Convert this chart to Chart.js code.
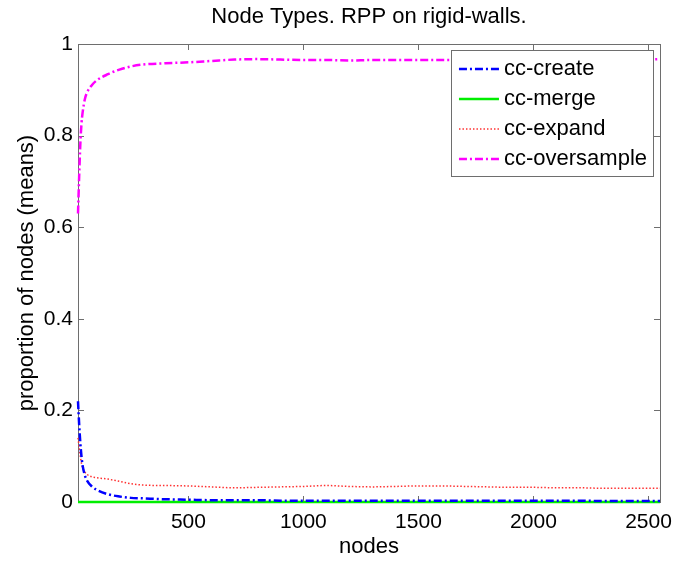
<!DOCTYPE html>
<html>
<head>
<meta charset="utf-8">
<script src="https://cdn.jsdelivr.net/npm/chart.js@4.4.1/dist/chart.umd.min.js"></script>
<style>
  html, body { margin: 0; padding: 0; background: #fff; }
  #wrap { width: 676px; height: 564px; }
</style>
</head>
<body>
<div id="wrap"><canvas id="nodeChart"></canvas></div>
<script>
// number of nodes in the roadmap
var nodes = [20, 25, 30, 35, 40, 50, 60, 80, 100, 150, 200, 250, 300, 400, 500, 600, 700, 800, 900, 1000,
             1100, 1200, 1300, 1400, 1500, 1600, 1700, 1800, 1900, 2000, 2100, 2200, 2300, 2400, 2500, 2550];

// mean proportion of each node type
var ccCreate = [0.22, 0.17, 0.13, 0.10, 0.08, 0.058, 0.046, 0.034, 0.027, 0.017, 0.012, 0.009, 0.008, 0.006, 0.005, 0.004, 0.004, 0.004, 0.003, 0.003,
                0.003, 0.003, 0.003, 0.003, 0.003, 0.003, 0.003, 0.003, 0.003, 0.003, 0.003, 0.003, 0.002, 0.002, 0.002, 0.002];
var ccMerge = [0, 0, 0, 0, 0, 0, 0, 0, 0, 0, 0, 0, 0, 0, 0, 0, 0, 0, 0, 0,
               0, 0, 0, 0, 0, 0, 0, 0, 0, 0, 0, 0, 0, 0, 0, 0];
var ccExpand = [0.14, 0.12, 0.10, 0.085, 0.075, 0.065, 0.06, 0.055, 0.053, 0.05, 0.045, 0.04, 0.037, 0.036, 0.035, 0.033, 0.031, 0.032, 0.033, 0.034,
                0.036, 0.034, 0.033, 0.034, 0.035, 0.035, 0.034, 0.033, 0.032, 0.032, 0.031, 0.031, 0.030, 0.030, 0.030, 0.030];
var ccOversample = [0.63, 0.71, 0.78, 0.825, 0.85, 0.88, 0.895, 0.91, 0.92, 0.934, 0.944, 0.951, 0.955, 0.958, 0.960, 0.963, 0.966, 0.967, 0.966, 0.965,
                    0.965, 0.964, 0.965, 0.965, 0.965, 0.965, 0.965, 0.965, 0.965, 0.965, 0.965, 0.965, 0.965, 0.966, 0.966, 0.967];

var xTicks = [500, 1000, 1500, 2000, 2500];
var yTicks = [0, 0.2, 0.4, 0.6, 0.8, 1];

const toPoints = (ys) => nodes.map((x, i) => ({ x: x, y: ys[i] }));

const axisColor = '#6e6e6e';
const fontFamily = 'Helvetica, Arial, "Liberation Sans", sans-serif';

// box around the axes plus inward tick marks on all four sides
const boxPlugin = {
  id: 'boxPlugin',
  beforeDatasetsDraw(chart) {
    const { ctx, chartArea: a, scales } = chart;
    ctx.save();
    ctx.strokeStyle = axisColor;
    ctx.lineWidth = 1;
    ctx.beginPath();
    scales.x.ticks.forEach(t => {
      const px = Math.round(scales.x.getPixelForValue(t.value)) + 0.5;
      ctx.moveTo(px, a.bottom); ctx.lineTo(px, a.bottom - 6);
      ctx.moveTo(px, a.top); ctx.lineTo(px, a.top + 6);
    });
    scales.y.ticks.forEach(t => {
      const py = Math.round(scales.y.getPixelForValue(t.value)) + 0.5;
      ctx.moveTo(a.left, py); ctx.lineTo(a.left + 6, py);
      ctx.moveTo(a.right, py); ctx.lineTo(a.right - 6, py);
    });
    ctx.stroke();
    ctx.strokeRect(Math.round(a.left) + 0.5, Math.round(a.top) + 0.5,
                   Math.round(a.right - a.left), Math.round(a.bottom - a.top));
    ctx.restore();
  }
};

// legend boxed inside the top right corner
const innerLegend = {
  id: 'innerLegend',
  afterDatasetsDraw(chart) {
    const { ctx, chartArea: a } = chart;
    const sets = chart.data.datasets;
    ctx.save();
    ctx.font = '22px ' + fontFamily;
    const textW = Math.max(...sets.map(d => ctx.measureText(d.label).width));
    const rowH = 30, lineLen = 40, padL = 8, gap = 5, padR = 6;
    const w = padL + lineLen + gap + textW + padR;
    const h = rowH * sets.length + 6;
    const right = Math.round(a.right) - 7;
    const x0 = right - w, y0 = Math.round(a.top) + 6;
    ctx.fillStyle = '#fff';
    ctx.fillRect(x0, y0, w, h);
    ctx.strokeStyle = axisColor;
    ctx.lineWidth = 1;
    ctx.strokeRect(Math.round(x0) + 0.5, y0 + 0.5, Math.round(w), h);
    sets.forEach((d, i) => {
      const cy = y0 + 19 + i * rowH;
      ctx.strokeStyle = d.borderColor;
      ctx.lineWidth = d.borderWidth;
      ctx.setLineDash(d.borderDash || []);
      ctx.beginPath();
      ctx.moveTo(x0 + padL, cy);
      ctx.lineTo(x0 + padL + lineLen, cy);
      ctx.stroke();
      ctx.setLineDash([]);
      ctx.fillStyle = '#000';
      ctx.textBaseline = 'middle';
      ctx.fillText(d.label, x0 + padL + lineLen + gap, cy);
    });
    ctx.restore();
  }
};

document.addEventListener('DOMContentLoaded', () => {
  var ctx = document.getElementById('nodeChart');
  new Chart(ctx, {
    type: 'line',
    data: {
      datasets: [
        { label: 'cc-create', data: toPoints(ccCreate), borderColor: '#0000ff', borderWidth: 2.5, borderDash: [8, 3, 2, 3] },
        { label: 'cc-merge', data: toPoints(ccMerge), borderColor: '#00ee00', borderWidth: 2.5 },
        { label: 'cc-expand', data: toPoints(ccExpand), borderColor: '#ff3030', borderWidth: 1.5, borderDash: [1.5, 2] },
        { label: 'cc-oversample', data: toPoints(ccOversample), borderColor: '#ff00ff', borderWidth: 2.5, borderDash: [8, 3, 2, 3] }
      ]
    },
    options: {
      responsive: true,
      maintainAspectRatio: false,
      animation: false,
      events: [],
      clip: 3,
      layout: { padding: { left: 0, right: 16, top: 0, bottom: 0 } },
      elements: { point: { radius: 0 }, line: { tension: 0.3, cubicInterpolationMode: 'monotone' } },
      scales: {
        x: {
          type: 'linear',
          min: 20,
          max: 2550,
          afterFit(scale) { scale.height = 62; scale.paddingRight = 0; scale.paddingLeft = 0; },
          afterBuildTicks(scale) { scale.ticks = xTicks.map(v => ({ value: v })); },
          grid: { display: false, drawTicks: false },
          border: { display: false },
          ticks: { color: '#000', padding: 8, maxRotation: 0, callback: (v) => String(v), font: { size: 21, family: fontFamily } },
          title: { display: true, text: 'nodes', color: '#000', padding: { top: 0, bottom: 4 }, font: { size: 22, family: fontFamily } }
        },
        y: {
          min: 0,
          max: 1,
          afterFit(scale) { scale.width = 78; scale.paddingTop = 0; scale.paddingBottom = 0; },
          afterBuildTicks(scale) { scale.ticks = yTicks.map(v => ({ value: v })); },
          grid: { display: false, drawTicks: false },
          border: { display: false },
          ticks: { color: '#000', padding: 5, callback: (v) => String(v), font: { size: 21, family: fontFamily } },
          title: { display: true, text: 'proportion of nodes (means)', color: '#000', padding: { top: 14, bottom: 0 }, font: { size: 22, family: fontFamily } }
        }
      },
      plugins: {
        legend: { display: false },
        tooltip: { enabled: false },
        title: {
          display: true,
          fullSize: false,
          text: 'Node Types. RPP on rigid-walls.',
          color: '#000',
          font: { size: 22, weight: 'normal', family: fontFamily },
          padding: { top: 4, bottom: 13.6 }
        }
      }
    },
    plugins: [boxPlugin, innerLegend]
  });
});
</script>
</body>
</html>
